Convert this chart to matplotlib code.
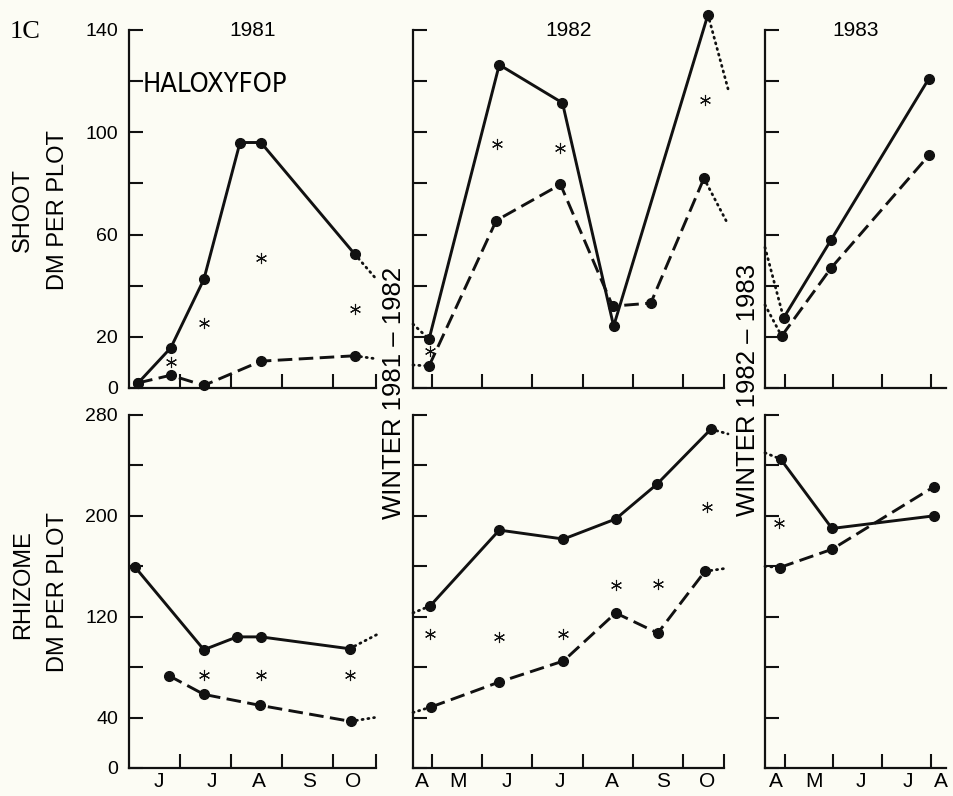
import matplotlib.pyplot as plt
from matplotlib.ticker import MultipleLocator

plt.rcParams['font.family'] = ['Liberation Sans', 'DejaVu Sans']

# months as decimals: 6.0 = 1 June, 4.5 = mid April ...
# ---- SHOOT 1981 ----
sh81_sol_m = [6.18, 6.82, 7.47, 8.18, 8.59, 10.43]
sh81_sol = [2, 15.7, 42.5, 96, 96, 52.4]
sh81_das_m = [6.18, 6.82, 7.47, 8.59, 10.43]
sh81_das = [2, 5, 1, 10.5, 12.6]
sh81_star_m = [6.82, 7.47, 8.59, 10.43]
sh81_star = [10.2, 25.6, 51, 31]
sh81_sol_tail = (10.86, 42.5)
sh81_das_tail = (10.86, 11.4)

# ---- SHOOT 1982 ----
sh82_sol_m = [4.94, 6.34, 7.6, 8.62, 10.5]
sh82_sol = [19.1, 126.4, 111.5, 24.2, 146]
sh82_das_m = [4.94, 6.28, 7.56, 8.6, 9.36, 10.42]
sh82_das = [8.6, 65.5, 79.6, 32, 33.2, 82]
sh82_star_m = [4.96, 6.3, 7.56, 10.44]
sh82_star = [14.4, 95.6, 94, 112.7]
sh82_sol_lead = (4.62, 25)
sh82_das_lead = (4.62, 9)
sh82_sol_tail = (10.9, 117)
sh82_das_tail = (10.9, 64)

# ---- SHOOT 1983 ----
sh83_sol_m = [4.98, 5.95, 7.95]
sh83_sol = [27.4, 57.9, 121]
sh83_das_m = [4.94, 5.95, 7.95]
sh83_das = [20.3, 46.9, 91]
sh83_sol_lead = (4.6, 55)
sh83_das_lead = (4.6, 32.5)

# ---- RHIZOME 1981 ----
rh81_sol_m = [6.12, 7.47, 8.12, 8.59, 10.33]
rh81_sol = [159.3, 93.8, 104, 104, 94.6]
rh81_das_m = [6.78, 7.47, 8.57, 10.35]
rh81_das = [73.3, 58.4, 49.7, 37]
rh81_star_m = [7.47, 8.59, 10.33]
rh81_star = [74, 74, 74]
rh81_sol_tail = (10.9, 106.5)
rh81_das_tail = (10.82, 40)

# ---- RHIZOME 1982 ----
rh82_sol_m = [4.96, 6.34, 7.62, 8.66, 9.48, 10.56]
rh82_sol = [128.5, 188.7, 181.6, 197.5, 225, 268.8]
rh82_das_m = [4.98, 6.34, 7.62, 8.66, 9.5, 10.44]
rh82_das = [48.4, 68.2, 84.9, 123, 107, 156]
rh82_star_m = [4.96, 6.34, 7.62, 8.66, 9.5, 10.48]
rh82_star = [106, 104, 106, 145, 146, 207]
rh82_sol_lead = (4.62, 123)
rh82_das_lead = (4.62, 44)
rh82_sol_tail = (10.9, 265)
rh82_das_tail = (10.9, 158.6)

# ---- RHIZOME 1983 ----
rh83_sol_m = [4.92, 5.97, 8.05]
rh83_sol = [245, 190, 200]
rh83_das_m = [4.9, 5.97, 8.05]
rh83_das = [159, 173.5, 223]
rh83_star_m = [4.88]
rh83_star = [194]
rh83_sol_lead = (4.6, 250)
rh83_das_lead = (4.6, 160)

# axis ranges / month labels per column
xlims = [(6.0, 10.85), (4.62, 10.82), (4.6, 8.3)]
xticks = [[7, 8, 9, 10, 10.85], [5, 6, 7, 8, 9, 10, 10.82], [5, 6, 7, 8]]
mon_pos = [[6.59, 7.63, 8.55, 9.53, 10.41],
           [4.8, 5.52, 6.5, 7.54, 8.58, 9.6, 10.48],
           [4.82, 5.6, 6.55, 7.52, 8.2]]
mon_lab = [['J', 'J', 'A', 'S', 'O'],
           ['A', 'M', 'J', 'J', 'A', 'S', 'O'],
           ['A', 'M', 'J', 'J', 'A']]
years = ['1981', '1982', '1983']

bg = '#fcfcf4'
ink = '#111111'
fig = plt.figure(figsize=(9.54, 7.96), dpi=100, facecolor=bg)

W, H = 954, 796
cols_px = [(129, 376), (413, 724), (765, 946)]
rows_px = [(30, 388), (415, 768)]

def dotted(ax, a, b):
    ax.plot([a[0], b[0]], [a[1], b[1]], color=ink, lw=2.0,
            linestyle=(0, (0.4, 1.7)), dash_capstyle='round', clip_on=False)

def panel(ax, sol_m, sol, das_m, das, star_m=None, star=None,
          sol_lead=None, das_lead=None, sol_tail=None, das_tail=None):
    ax.plot(sol_m, sol, color=ink, lw=2.1, marker='o', ms=7, clip_on=False)
    ax.plot(das_m, das, color=ink, lw=2.1, linestyle=(0, (5, 2.2)),
            marker='o', ms=7, clip_on=False)
    if star_m:
        ax.plot(star_m, star, linestyle='none', marker=(6, 2, 0), ms=8,
                mew=0.8, color=ink, clip_on=False)
    if sol_lead:
        dotted(ax, sol_lead, (sol_m[0], sol[0]))
    if das_lead:
        dotted(ax, das_lead, (das_m[0], das[0]))
    if sol_tail:
        dotted(ax, (sol_m[-1], sol[-1]), sol_tail)
    if das_tail:
        dotted(ax, (das_m[-1], das[-1]), das_tail)

axes = [[None] * 3, [None] * 3]
for r, (yt, yb) in enumerate(rows_px):
    for c, (xl, xr) in enumerate(cols_px):
        ax = fig.add_axes([xl / W, 1 - yb / H, (xr - xl) / W, (yb - yt) / H])
        ax.set_facecolor('none')
        for s in ['top', 'right']:
            ax.spines[s].set_visible(False)
        for s in ['left', 'bottom']:
            ax.spines[s].set_linewidth(1.6)
            ax.spines[s].set_color(ink)
        ax.set_xlim(*xlims[c])
        ax.set_xticks(xticks[c])
        ax.set_xticklabels([])
        if r == 0:
            ax.set_ylim(0, 140)
            ax.yaxis.set_major_locator(MultipleLocator(20))
            lab = {0: '0', 20: '20', 60: '60', 100: '100', 140: '140'}
        else:
            ax.set_ylim(0, 280)
            ax.yaxis.set_major_locator(MultipleLocator(40))
            lab = {0: '0', 40: '40', 120: '120', 200: '200', 280: '280'}
        if c == 0:
            ax.yaxis.set_major_formatter(
                plt.FuncFormatter(lambda v, p, lab=lab: lab.get(int(round(v)), '')))
        else:
            ax.set_yticklabels([])
        ax.tick_params(axis='both', which='major', direction='in', length=10,
                       width=1.5, color=ink, labelsize=14, pad=8)
        if r == 1:
            ax.set_xticks(mon_pos[c], minor=True)
            ax.set_xticklabels(mon_lab[c], minor=True)
            ax.tick_params(axis='x', which='minor', length=0, labelsize=15, pad=3)
        else:
            ax.text(0.5, 1.0, years[c], transform=ax.transAxes, ha='center',
                    va='center', fontsize=15)
        axes[r][c] = ax

panel(axes[0][0], sh81_sol_m, sh81_sol, sh81_das_m, sh81_das, sh81_star_m, sh81_star,
      sol_tail=sh81_sol_tail, das_tail=sh81_das_tail)
panel(axes[0][1], sh82_sol_m, sh82_sol, sh82_das_m, sh82_das, sh82_star_m, sh82_star,
      sh82_sol_lead, sh82_das_lead, sh82_sol_tail, sh82_das_tail)
panel(axes[0][2], sh83_sol_m, sh83_sol, sh83_das_m, sh83_das,
      sol_lead=sh83_sol_lead, das_lead=sh83_das_lead)
panel(axes[1][0], rh81_sol_m, rh81_sol, rh81_das_m, rh81_das, rh81_star_m, rh81_star,
      sol_tail=rh81_sol_tail, das_tail=rh81_das_tail)
panel(axes[1][1], rh82_sol_m, rh82_sol, rh82_das_m, rh82_das, rh82_star_m, rh82_star,
      rh82_sol_lead, rh82_das_lead, rh82_sol_tail, rh82_das_tail)
panel(axes[1][2], rh83_sol_m, rh83_sol, rh83_das_m, rh83_das, rh83_star_m, rh83_star,
      rh83_sol_lead, rh83_das_lead)

axes[0][0].text(0.057, 0.846, 'HALOXYFOP', transform=axes[0][0].transAxes,
                fontsize=19.5, va='center', ha='left',
                family='DejaVu Sans', fontstretch='condensed')

fig.text(10 / W, 1 - 32 / H, '1C', fontsize=19, ha='left', va='center',
         family=['Liberation Serif', 'DejaVu Serif'])

fig.text(23 / W, 1 - 210 / H, 'SHOOT', rotation=90, fontsize=17, ha='center', va='center')
fig.text(58 / W, 1 - 210 / H, 'DM PER PLOT', rotation=90, fontsize=17, ha='center', va='center')
fig.text(23 / W, 1 - 585 / H, 'RHIZOME', rotation=90, fontsize=17, ha='center', va='center')
fig.text(58 / W, 1 - 592 / H, 'DM PER PLOT', rotation=90, fontsize=17, ha='center', va='center')

fig.text(394 / W, 1 - 393 / H, 'WINTER 1981 \u2013 1982', rotation=90, fontsize=18.5,
         ha='center', va='center')
fig.text(748 / W, 1 - 390 / H, 'WINTER 1982 \u2013 1983', rotation=90, fontsize=18.5,
         ha='center', va='center')

fig.savefig('out.png', dpi=100, facecolor=bg)
